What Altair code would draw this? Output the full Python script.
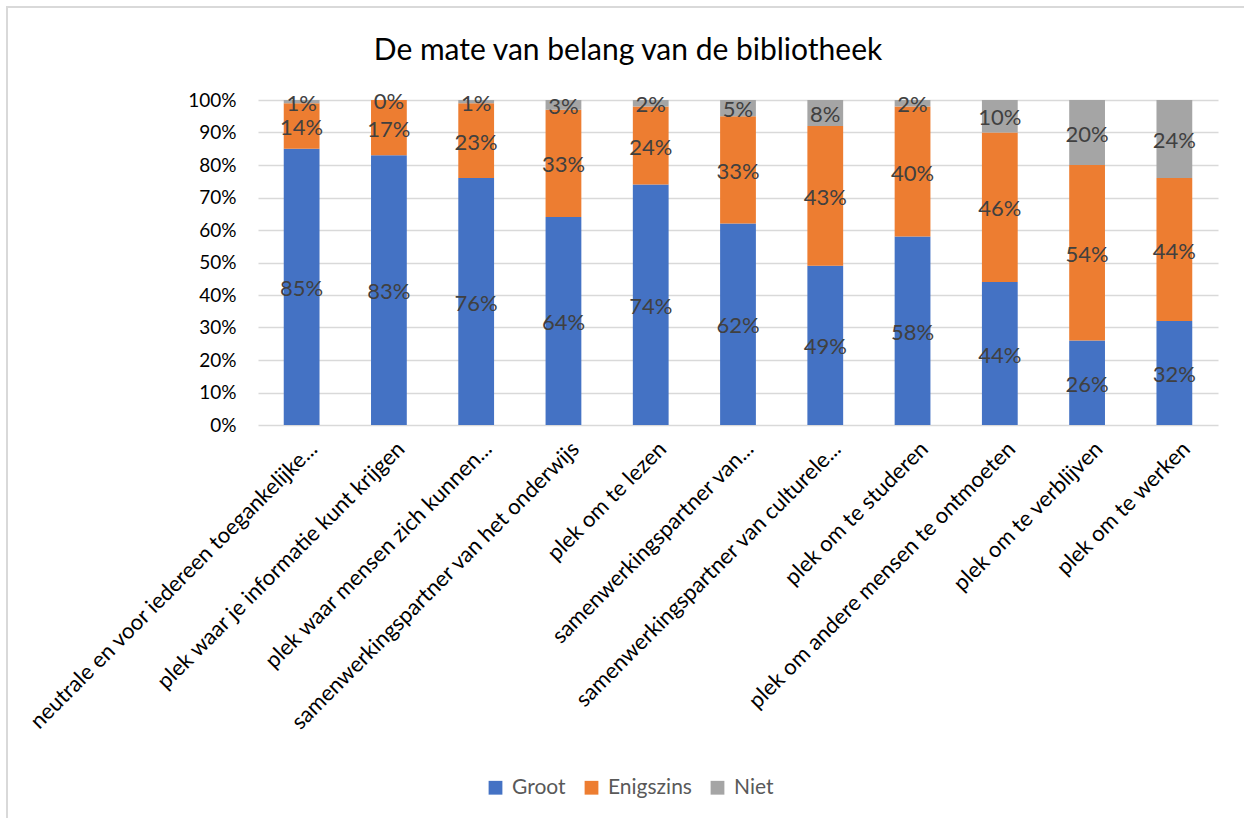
import altair as alt
import pandas as pd

title_text = "De mate van belang van de bibliotheek"
categories = [
    "neutrale en voor iedereen toegankelijke...",
    "plek waar je informatie kunt krijgen",
    "plek waar mensen zich kunnen...",
    "samenwerkingspartner van het onderwijs",
    "plek om te lezen",
    "samenwerkingspartner van...",
    "samenwerkingspartner van culturele...",
    "plek om te studeren",
    "plek om andere mensen te ontmoeten",
    "plek om te verblijven",
    "plek om te werken",
]
series = ["Groot", "Enigszins", "Niet"]
groot = [85, 83, 76, 64, 74, 62, 49, 58, 44, 26, 32]
enigszins = [14, 17, 23, 33, 24, 33, 43, 40, 46, 54, 44]
niet = [1, 0, 1, 3, 2, 5, 8, 2, 10, 20, 24]
colors = ["#4472C4", "#ED7D31", "#A5A5A5"]
y_ticks = [0, 0.1, 0.2, 0.3, 0.4, 0.5, 0.6, 0.7, 0.8, 0.9, 1.0]

rows = []
for i, cat in enumerate(categories):
    base = 0
    for s, vals in zip(series, [groot, enigszins, niet]):
        v = vals[i] / 100
        rows.append({"cat": cat, "series": s, "order": series.index(s),
                     "start": base, "end": base + v, "mid": base + v / 2,
                     "label": f"{vals[i]}%"})
        base += v
df = pd.DataFrame(rows)

FONT = "Lato"
y_scale = alt.Scale(domain=[0, 1])
x_scale = alt.Scale(paddingInner=0.59, paddingOuter=0.295)
x_axis = alt.Axis(labelAngle=-45, labelAlign="right", labelBaseline="middle",
                  labelFontSize=22, labelFont=FONT, labelColor="#000000",
                  ticks=False, domain=False, grid=False, labelPadding=20,
                  labelOffset=12, labelLimit=0)
y_axis = alt.Axis(values=y_ticks, format=".0%", labelFontSize=19, labelFont=FONT,
                  labelColor="#000000", ticks=False, domain=False,
                  gridColor="#d9d9d9", gridWidth=1.5, labelPadding=22,
                  labelOverlap=False)

bars = alt.Chart(df).mark_bar().encode(
    x=alt.X("cat:N", sort=categories, title=None, scale=x_scale, axis=x_axis),
    y=alt.Y("start:Q", scale=y_scale, title=None, axis=y_axis),
    y2="end:Q",
    color=alt.Color("series:N", scale=alt.Scale(domain=series, range=colors),
                    legend=alt.Legend(title=None, orient="none", direction="horizontal",
                                      legendX=227, legendY=677, symbolType="square",
                                      symbolSize=190, symbolStrokeWidth=0,
                                      labelFontSize=21, labelFont=FONT, labelColor="#595959",
                                      columnPadding=15, labelOffset=6)),
    order=alt.Order("order:Q"),
)

texts = alt.Chart(df).mark_text(fontSize=22, font=FONT, color="#404040",
                                align="center", baseline="middle", dy=2).encode(
    x=alt.X("cat:N", sort=categories, title=None, scale=x_scale, axis=x_axis),
    y=alt.Y("mid:Q", scale=y_scale, title=None, axis=y_axis),
    text="label:N",
)

border = alt.Chart(pd.DataFrame({"a": [0]})).mark_rect(
    fill=None, stroke="#d9d9d9", strokeWidth=2).encode(
    x=alt.value(-251), x2=alt.value(995), y=alt.value(-93), y2=alt.value(725))

title = alt.Chart(pd.DataFrame({"t": [title_text]})).mark_text(
    fontSize=30, font=FONT, color="#000000", align="center", baseline="alphabetic").encode(
    x=alt.value(370), y=alt.value(-40), text="t:N")

chart = alt.layer(border, bars, texts, title).properties(
    width=960, height=325,
    background="white",
    autosize=alt.AutoSizeParams(type="none"),
    padding={"left": 258, "top": 100, "right": 26, "bottom": 393},
).configure_view(strokeWidth=0, stroke="transparent")

chart.save("out.html", embed_options={"renderer": "svg", "actions": False})
